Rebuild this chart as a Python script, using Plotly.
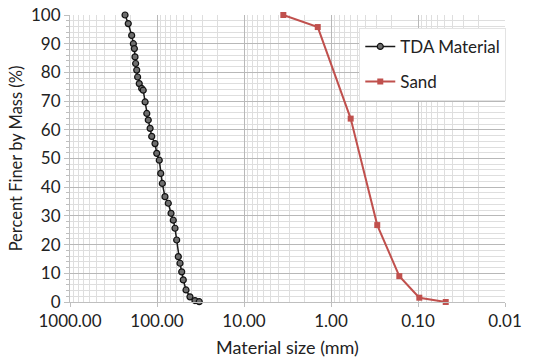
import plotly.graph_objects as go

# TDA material gradation (size in mm, percent finer)
tda_size = [233, 214, 195.5, 187, 182, 179, 176, 171, 167, 160, 150, 144, 137, 131, 126, 120,
            115, 105.4, 100.7, 94.2, 90.6, 86.9, 81, 74.2, 69.0, 65.0, 62.1, 59.4, 56.9, 54.4,
            52.0, 49.9, 46.4, 41.8, 36.6, 32.7]
tda_pct = [100, 97.0, 92.9, 90.0, 88.3, 85.4, 83.1, 80.8, 78.4, 76.1, 74.4, 73.8, 69.7, 65.7, 63.4, 60.5,
           57.7, 55.2, 51.8, 49.4, 44.8, 41.3, 36.7, 34.4, 30.9, 28.5, 25.7, 21.6, 15.8, 13.5,
           10.5, 7.7, 4.2, 1.8, 0.5, 0.1]

# Sand gradation
sand_size = [3.53, 1.42, 0.594, 0.294, 0.164, 0.0966, 0.048]
sand_pct = [100, 95.8, 63.9, 26.8, 9.0, 1.5, 0.0]

x_tickvals = [1000, 100, 10, 1, 0.1, 0.01]
x_ticktext = ["1000.00", "100.00", "10.00", "1.00", "0.10", "0.01"]
y_tickvals = list(range(0, 101, 10))

font_family = "Lato, Carlito, 'Open Sans', sans-serif"

fig = go.Figure()
fig.add_trace(go.Scatter(
    x=tda_size, y=tda_pct, name="TDA Material", mode="lines+markers",
    legendgroup="a",
    line=dict(color="#1a1a1a", width=1.5),
    marker=dict(symbol="circle", size=6, color="#6e6e6e", line=dict(color="#111111", width=1.2)),
    cliponaxis=False,
))
fig.add_trace(go.Scatter(
    x=sand_size, y=sand_pct, name="Sand", mode="lines+markers",
    legendgroup="b",
    line=dict(color="#C0504D", width=2),
    marker=dict(symbol="square", size=6, color="#C0504D"),
    cliponaxis=False,
))

fig.update_layout(
    width=542, height=362,
    margin=dict(l=70, r=37, t=15, b=60),
    paper_bgcolor="white", plot_bgcolor="white",
    font=dict(family=font_family, size=17, color="#222222"),
    showlegend=True,
    legend=dict(
        x=0.665, y=0.955, xanchor="left", yanchor="top",
        bgcolor="white", bordercolor="#E3E3E3", borderwidth=1,
        font=dict(size=17), traceorder="grouped", tracegroupgap=10,
        itemwidth=30,
    ),
    xaxis=dict(
        type="log", range=[3, -2], autorange=False, automargin=False,
        tickvals=x_tickvals, ticktext=x_ticktext,
        showgrid=True, gridcolor="#B8B8B8", gridwidth=1,
        minor=dict(showgrid=True, gridcolor="#DEDEDE", ticks="", dtick="D1"),
        showline=True, linecolor="#BFBFBF", zeroline=False,
        ticks="outside", ticklen=4, tickcolor="#BFBFBF", tickfont=dict(size=17),
        title=dict(text="Material size (mm)", font=dict(size=18), standoff=10),
    ),
    yaxis=dict(
        range=[0, 100], autorange=False, automargin=False,
        tickvals=y_tickvals,
        showgrid=True, gridcolor="#B8B8B8", gridwidth=1,
        minor=dict(showgrid=True, gridcolor="#DEDEDE", dtick=2, ticks="outside", ticklen=3, tickcolor="#BFBFBF"),
        showline=True, linecolor="#BFBFBF", zeroline=False,
        ticks="outside", ticklen=5, tickcolor="#BFBFBF", tickfont=dict(size=17),
        title=dict(text="Percent Finer by Mass (%)", font=dict(size=16.5), standoff=4),
    ),
)

fig.write_html("out.html")
